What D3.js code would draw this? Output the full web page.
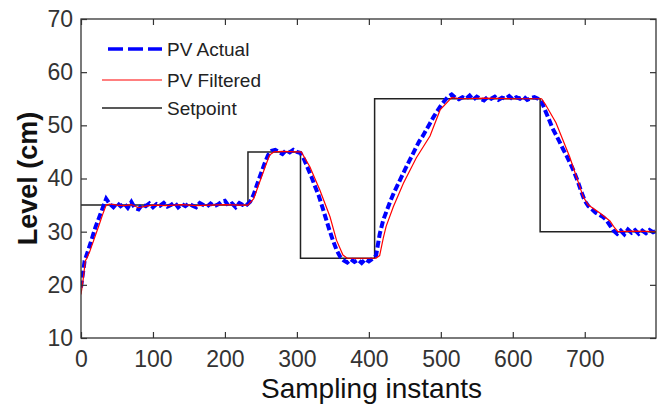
<!DOCTYPE html>
<html><head><meta charset="utf-8">
<script src="https://cdn.jsdelivr.net/npm/d3@7"></script>
<style>
body{margin:0;background:#fff;}
svg{display:block;font-family:"Liberation Sans",Arial,sans-serif;}
</style></head>
<body><svg id="c" width="662" height="407"></svg>
<script>
// ---- data ----
const xTicks = [0,100,200,300,400,500,600,700];
const yTicks = [10,20,30,40,50,60,70];
const seriesNames = ["PV Actual","PV Filtered","Setpoint"];

// Setpoint (step)
const spT = [0,232,305,408,638,799];
const spV = [35,45,25,55,30,30];

// PV Actual sampled every 5 instants
const actT = d3.range(0,800,5).concat([799]);
const actV = [
19.5,24.5,26.5,28.6,30.8,32.6,34.4,36.2,35.2,34.6,
35.4,34.8,35.3,34.5,35.6,34.4,34.2,35.1,34.8,35.3,
34.6,35.2,34.9,35.4,34.7,35.0,35.5,34.6,35.2,34.8,
35.3,34.9,34.6,35.4,35.0,34.7,35.3,34.8,35.1,35.6,
35.8,34.9,35.3,34.6,35.4,35.0,35.0,35.6,37.0,39.0,
40.9,42.8,44.4,45.2,45.4,45.0,44.6,45.3,44.9,45.4,
45.0,44.8,43.6,42.0,40.4,38.6,36.9,34.8,32.6,30.4,
28.4,26.6,25.3,24.6,24.2,24.8,24.3,24.7,24.1,24.8,
24.4,24.9,25.5,29.5,32.2,34.0,35.8,37.4,38.8,40.2,
41.6,43.0,44.3,45.7,47.0,48.0,49.2,50.4,51.6,52.7,
53.7,54.6,55.4,55.8,55.2,54.9,55.3,55.0,55.6,54.8,
55.4,55.0,54.7,55.3,55.0,55.4,54.8,55.2,55.0,55.5,
54.9,55.3,55.0,55.4,54.8,55.1,55.3,55.0,54.5,52.8,
51.2,49.5,48.2,46.9,45.5,44.2,42.8,41.3,39.6,37.6,
35.8,34.8,34.2,33.6,33.2,32.8,32.2,31.2,30.2,29.6,
30.2,29.5,30.4,29.8,30.3,29.6,30.2,29.7,30.3,29.9,
30.1
];

// PV Filtered
const filT = [0,3,6,8,12,18,25,30,35,40,50,60,70,80,90,100,120,140,160,180,200,220,232,240,246,256,262,268,280,300,306,318,332,346,355,364,370,390,410,415,420,424,434,448,466,485,499,515,530,560,600,640,645,660,679,698,705,721,735,740,746,770,799];
const filV = [18.2,21,24.5,25.0,26.2,28.5,31.2,33.2,35.0,35.2,35.0,34.9,35.1,34.5,34.8,35.0,34.9,35.1,34.9,35.0,35.1,35.0,35.0,36.2,38.5,42.2,44.4,45.0,45.1,45.0,45.0,42.2,37.8,32.8,28.4,25.6,25.0,25.0,25.0,25.5,28.8,31.0,34.7,39.1,43.9,48.0,52.9,55.2,55.0,55.1,55.0,55.0,54.0,50.5,44.1,36.5,35.0,33.5,32.0,31.0,30.0,30.1,30.0];

// ---- chart ----
const L=81,R=656,T=19,B=338;
const svg = d3.select("#c");
const x = d3.scaleLinear().domain([0,799]).range([L,R]);
const y = d3.scaleLinear().domain([10,70]).range([B,T]);

svg.append("clipPath").attr("id","clp").append("rect")
  .attr("x",L).attr("y",T).attr("width",R-L).attr("height",B-T);

const g = svg.append("g").attr("clip-path","url(#clp)");
const line = d3.line().x(d=>x(d[0])).y(d=>y(d[1]));

g.append("path").datum(spT.map((t,i)=>[t,spV[i]]))
  .attr("d", d3.line().x(d=>x(d[0])).y(d=>y(d[1])).curve(d3.curveStepAfter))
  .attr("fill","none").attr("stroke","#222").attr("stroke-width",1.5);

g.append("path").datum(actT.map((t,i)=>[t,actV[i]]))
  .attr("d", line).attr("fill","none").attr("stroke","#0000ff")
  .attr("stroke-width",4).attr("stroke-dasharray","7,3");

g.append("path").datum(filT.map((t,i)=>[t,filV[i]]))
  .attr("d", line).attr("fill","none").attr("stroke","#ff0000").attr("stroke-width",1.2);

// axes
const axCol="#333";
function style(sel){
  sel.select(".domain").remove();
  sel.selectAll("line").attr("stroke",axCol).attr("stroke-width",1.2);
  sel.selectAll("text").attr("fill","#333").style("font-size","23px")
     .style("font-family","'Liberation Sans',Arial,sans-serif");
}
svg.append("g").attr("transform",`translate(0,${B})`)
  .call(d3.axisBottom(x).tickValues(xTicks).tickSize(-6).tickPadding(13)).call(style);
svg.append("g").attr("transform",`translate(0,${T})`)
  .call(d3.axisTop(x).tickValues(xTicks).tickSize(-6).tickFormat("")).call(style);
svg.append("g").attr("transform",`translate(${L},0)`)
  .call(d3.axisLeft(y).tickValues(yTicks).tickSize(-6).tickPadding(8)).call(style);
svg.append("g").attr("transform",`translate(${R},0)`)
  .call(d3.axisRight(y).tickValues(yTicks).tickSize(-6).tickFormat("")).call(style);

svg.append("rect").attr("x",L).attr("y",T).attr("width",R-L).attr("height",B-T)
  .attr("fill","none").attr("stroke",axCol).attr("stroke-width",1.3);

// axis labels
svg.append("text").attr("x",(L+R)/2+3).attr("y",398).attr("text-anchor","middle")
  .style("font-size","28px").attr("fill","#111").text("Sampling instants");
svg.append("text").attr("transform",`translate(37,${(T+B)/2})rotate(-90)`)
  .attr("text-anchor","middle").style("font-size","27px").style("font-weight","bold")
  .attr("fill","#111").text("Level (cm)");

// legend
const leg = [
  {name:seriesNames[0], color:"#0000ff", w:3.6, dash:"15,5", x1:108, y:49},
  {name:seriesNames[1], color:"#ff0000", w:1.2, dash:null, x1:102, y:80},
  {name:seriesNames[2], color:"#222", w:1.5, dash:null, x1:102, y:108}
];
const lg = svg.append("g");
leg.forEach(d=>{
  lg.append("line").attr("x1",d.x1).attr("x2",162).attr("y1",d.y).attr("y2",d.y)
    .attr("stroke",d.color).attr("stroke-width",d.w).attr("stroke-dasharray",d.dash);
  lg.append("text").attr("x",167).attr("y",d.y).attr("dy","0.35em")
    .style("font-size","19px").attr("fill","#222").text(d.name);
});
</script></body></html>
